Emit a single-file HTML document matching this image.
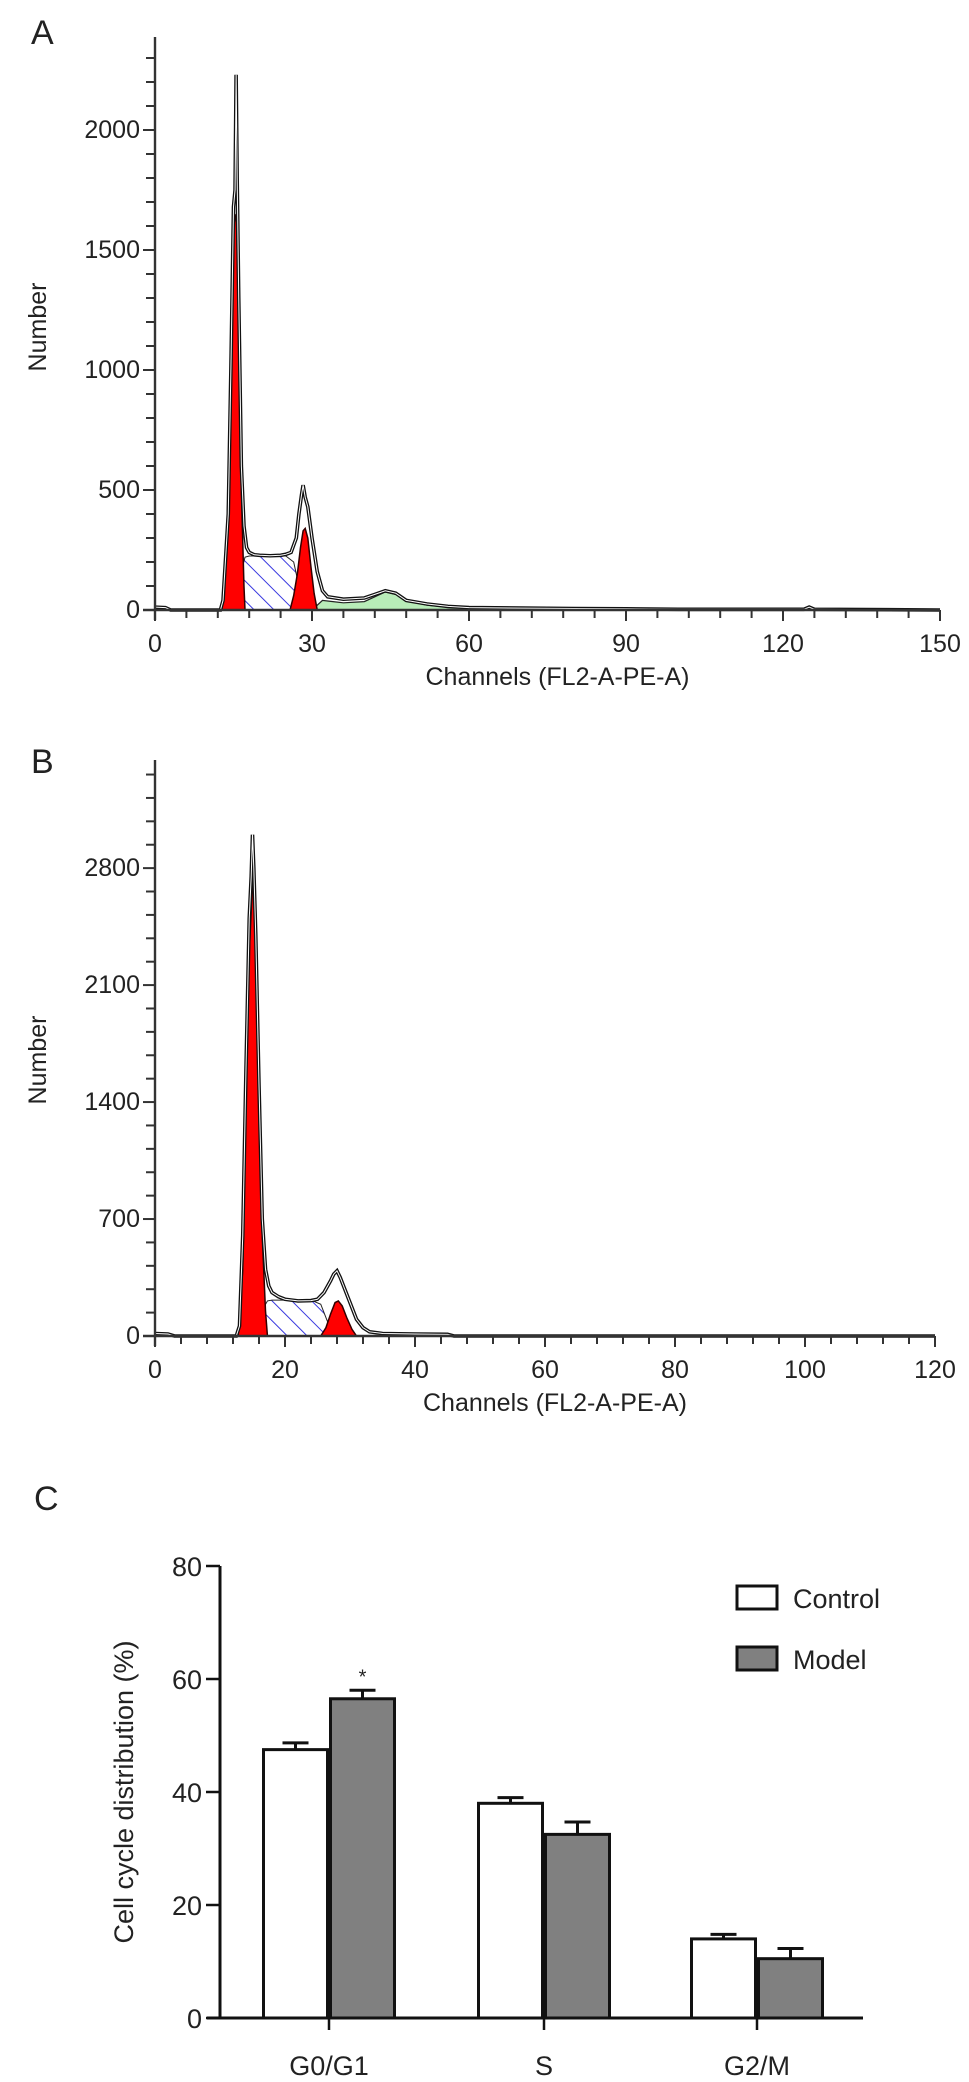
<!DOCTYPE html>
<html><head><meta charset="utf-8"><style>
html,body{margin:0;padding:0;background:#fff;}
svg{display:block;font-family:"Liberation Sans",Arial,sans-serif;}
</style></head><body>
<svg id="fig" width="969" height="2082" viewBox="0 0 969 2082" xmlns="http://www.w3.org/2000/svg">
<defs>
<pattern id="hatch" patternUnits="userSpaceOnUse" width="14" height="14" patternTransform="rotate(-45)">
<rect width="14" height="14" fill="#fff"/>
<line x1="0" y1="0" x2="0" y2="14" stroke="#3a3adf" stroke-width="2"/>
</pattern>
</defs>
<g id="panelA"></g>
<g id="panelB"></g>
<g id="panelC"></g>
</svg>
<script>
// ---------- Panel A data ----------
const aEnvX = [0,2,3,12.5,13,14,14.5,15,15.3,15.5,15.7,16,16.5,17,17.5,18,19,20,22,24,25,26,27,27.5,28,28.3,28.7,29.2,30,31,32,33,36,40,42,44,46,48,52,56,60,70,80,90,100,124,125,126,150];
const aEnvY = [12,10,0,0,40,400,1000,1680,1750,2230,1800,1300,600,350,260,240,230,228,226,228,232,240,300,400,480,520,470,430,300,160,80,55,45,50,65,80,70,40,25,15,10,8,6,5,3,3,12,3,0];
const aG1X = [12.8,13.5,14,14.5,15,15.5,16,16.5,17,17.2];
const aG1Y = [0,200,500,1000,1600,1650,1300,500,100,0];
const aSX = [14.5,16,17.2,18,25,26.5,27.5,28.5];
const aSY = [0,120,220,225,225,200,100,0];
const aG2X = [25.8,26.5,27.2,27.8,28.3,28.7,29.2,29.8,30.4,31];
const aG2Y = [0,60,150,260,330,340,300,180,70,0];
const aDebX = [30,32,34,36,40,42,44,46,48,52,56,60,65];
const aDebY = [0,40,35,30,35,55,75,65,40,20,12,6,0];
const aXTicks = [0,30,60,90,120,150];
const aYTicks = [0,500,1000,1500,2000];

// ---------- Panel B data ----------
const bEnvX = [0,2,3,12.5,13,13.5,14,14.5,14.8,15,15.2,15.5,16,16.5,17,17.5,18,19,20,22,24,25,26,27,27.5,28,28.5,29,30,31,32,33,35,40,45,46,120];
const bEnvY = [15,12,0,0,60,600,1600,2500,2750,3000,2800,2400,1500,700,400,300,260,235,220,210,212,220,260,330,370,390,350,300,200,100,50,25,15,12,10,0,0];
const bG1X = [12.8,13.5,14,14.5,15,15.5,16,16.5,17,17.3];
const bG1Y = [0,400,1400,2300,2700,2550,1500,600,150,0];
const bSX = [14.5,16,17.3,18,24,25.5,26.5,27.5];
const bSY = [0,120,210,215,215,190,90,0];
const bG2X = [25.5,26.3,27,27.7,28.2,28.8,29.5,30.3,31];
const bG2Y = [0,50,130,200,210,180,110,40,0];
const bXTicks = [0,20,40,60,80,100,120];
const bYTicks = [0,700,1400,2100,2800];

// ---------- Panel C data ----------
const categories = ["G0/G1","S","G2/M"];
const controlVals = [47.5,38,14];
const controlErr = [1.2,1.0,0.8];
const modelVals = [56.5,32.5,10.5];
const modelErr = [1.5,2.2,1.8];
const cYTicks = [0,20,40,60,80];

const NS="http://www.w3.org/2000/svg";
function mk(parent,tag,attrs,text){
  const e=document.createElementNS(NS,tag);
  for(const k in attrs) e.setAttribute(k,attrs[k]);
  if(text!==undefined) e.textContent=text;
  parent.appendChild(e); return e;
}
function polyPts(xs,ys,sx,sy){return xs.map((x,i)=>sx(x)+","+sy(ys[i])).join(" ");}

function histogram(g,cfg){
  const sx=v=>cfg.x0+(v-cfg.xmin)*(cfg.x1-cfg.x0)/(cfg.xmax-cfg.xmin);
  const sy=v=>cfg.y0-v*cfg.pyu;
  if(cfg.deb){
    const d=mk(g,'polygon',{points:polyPts(cfg.deb[0],cfg.deb[1],sx,sy),fill:'#b8ecb8',stroke:'#222','stroke-width':1.2});
    
    
  }
  const s=mk(g,'polygon',{points:polyPts(cfg.s[0],cfg.s[1],sx,sy),fill:'url(#hatch)',stroke:'#222','stroke-width':1});
  
  
  const g1=mk(g,'polygon',{points:polyPts(cfg.g1[0],cfg.g1[1],sx,sy),fill:'#f00',stroke:'#300','stroke-width':1.5});
  
  
  const g2=mk(g,'polygon',{points:polyPts(cfg.g2[0],cfg.g2[1],sx,sy),fill:'#f00',stroke:'#300','stroke-width':1.5});
  
  
  const env=mk(g,'polyline',{points:polyPts(cfg.env[0],cfg.env[1],sx,sy),fill:'none',stroke:'#111','stroke-width':3.6});
  
  
  mk(g,'polyline',{points:polyPts(cfg.env[0],cfg.env[1],sx,sy),fill:'none',stroke:'#fff','stroke-width':1});
  const ytop=cfg.ytop;
  const ya=mk(g,'line',{x1:cfg.x0,y1:ytop,x2:cfg.x0,y2:cfg.y0+10,stroke:'#333','stroke-width':2.4});
  
  
  const xa=mk(g,'line',{x1:cfg.x0-12,y1:cfg.y0,x2:cfg.x1,y2:cfg.y0,stroke:'#333','stroke-width':2.4});
  
  
  for(let v=0; sy(v)>=ytop+5; v+=cfg.yminor){
    const major=cfg.yt.includes(v);
    mk(g,'line',{x1:cfg.x0-(major?12:9),y1:sy(v),x2:cfg.x0,y2:sy(v),stroke:'#333','stroke-width':2});
  }
  cfg.yt.forEach(v=>{
    const t=mk(g,'text',{x:cfg.x0-15,y:sy(v)+8,'text-anchor':'end','font-size':25,fill:'#222'},String(v));
    
    
  });
  for(let v=cfg.xmin; v<=cfg.xmax+0.001; v+=cfg.xminor){
    const major=cfg.xt.includes(v);
    mk(g,'line',{x1:sx(v),y1:cfg.y0,x2:sx(v),y2:cfg.y0+(major?11:8),stroke:'#333','stroke-width':2});
  }
  cfg.xt.forEach(v=>{
    const t=mk(g,'text',{x:sx(v),y:cfg.y0+42,'text-anchor':'middle','font-size':25,fill:'#222'},String(v));
    
    
  });
  const xt=mk(g,'text',{x:(cfg.x0+cfg.x1)/2+10,y:cfg.y0+75,'text-anchor':'middle','font-size':25,fill:'#222'},'Channels (FL2-A-PE-A)');
  
  
  const yt=mk(g,'text',{x:0,y:0,'text-anchor':'middle','font-size':25,fill:'#222',transform:`translate(46,${cfg.ycenter}) rotate(-90)`},'Number');
  
  
  const lab=mk(g,'text',{x:31,y:cfg.labY,'font-size':34,fill:'#222'},cfg.label);
  
  
}

histogram(document.getElementById('panelA'),{
  x0:155,x1:940,xmin:0,xmax:150,y0:610,pyu:0.24,ytop:37,yminor:100,xminor:6,
  xt:aXTicks,yt:aYTicks,env:[aEnvX,aEnvY],g1:[aG1X,aG1Y],s:[aSX,aSY],g2:[aG2X,aG2Y],deb:[aDebX,aDebY],
  ycenter:327,label:'A',labY:44
});
histogram(document.getElementById('panelB'),{
  x0:155,x1:935,xmin:0,xmax:120,y0:1336,pyu:0.1671,ytop:760,yminor:140,xminor:4,
  xt:bXTicks,yt:bYTicks,env:[bEnvX,bEnvY],g1:[bG1X,bG1Y],s:[bSX,bSY],g2:[bG2X,bG2Y],deb:null,
  ycenter:1060,label:'B',labY:773
});

// ---------- Panel C ----------
(function(){
  const g=document.getElementById('panelC');
  const y0=2018, pyu=452/80, axX=220;
  const sy=v=>y0-v*pyu;
  const centers=[329,544,757], bw=67;
  const lab=mk(g,'text',{x:34,y:1510,'font-size':34,fill:'#222'},'C');
  
  
  categories.forEach((c,i)=>{
    [[controlVals,controlErr,'#fff',-1,'control'],[modelVals,modelErr,'#808080',1,'model']].forEach(([vals,errs,fill,side,nm])=>{
      const x=side<0?centers[i]-bw:centers[i];
      const top=sy(vals[i]), et=sy(vals[i]+errs[i]);
      const bar=mk(g,'rect',{x:x+1.5,y:top,width:bw-3,height:y0-top,fill:fill,stroke:'#111','stroke-width':3});
      
      
      const cx=x+bw/2;
      const eb=mk(g,'path',{d:`M${cx},${top} V${et} M${cx-13},${et} H${cx+13}`,stroke:'#111','stroke-width':3,fill:'none'});
      
      
    });
    mk(g,'line',{x1:centers[i],y1:y0,x2:centers[i],y2:y0+12,stroke:'#111','stroke-width':2.5});
    const t=mk(g,'text',{x:centers[i],y:y0+57,'text-anchor':'middle','font-size':27,fill:'#222'},c);
    
    
  });
  const star=mk(g,'text',{x:centers[0]+bw/2,y:sy(modelVals[0]+modelErr[0])-7,'text-anchor':'middle','font-size':20,fill:'#222'},'*');
  
  
  const ya=mk(g,'line',{x1:axX,y1:sy(80),x2:axX,y2:y0,stroke:'#111','stroke-width':3});
  
  
  const xa=mk(g,'line',{x1:207,y1:y0,x2:863,y2:y0,stroke:'#111','stroke-width':3});
  
  
  cYTicks.forEach(v=>{
    mk(g,'line',{x1:axX-14,y1:sy(v),x2:axX,y2:sy(v),stroke:'#111','stroke-width':2.5});
    const t=mk(g,'text',{x:axX-18,y:sy(v)+10,'text-anchor':'end','font-size':27,fill:'#222'},String(v));
    
    
  });
  const yt=mk(g,'text',{x:0,y:0,'text-anchor':'middle','font-size':27,fill:'#222',transform:`translate(133,1792) rotate(-90)`},'Cell cycle distribution (%)');
  
  
  const l1=mk(g,'rect',{x:737,y:1586,width:40,height:23,fill:'#fff',stroke:'#111','stroke-width':3});
  
  
  const l1t=mk(g,'text',{x:793,y:1608,'font-size':27,fill:'#222'},'Control');
  
  
  const l2=mk(g,'rect',{x:737,y:1647,width:40,height:23,fill:'#808080',stroke:'#111','stroke-width':3});
  
  
  const l2t=mk(g,'text',{x:793,y:1669,'font-size':27,fill:'#222'},'Model');
  
  
})();
</script>
</body></html>
